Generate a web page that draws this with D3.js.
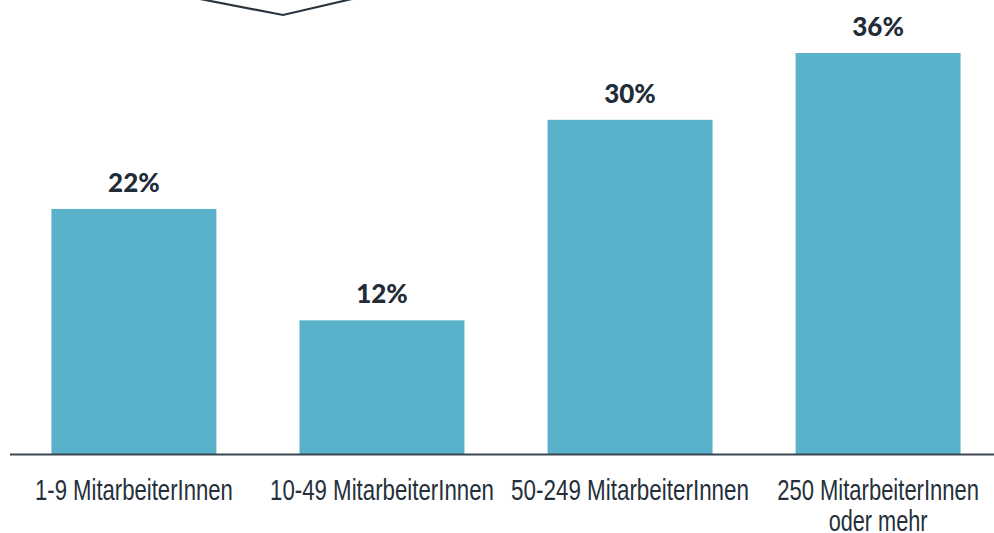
<!DOCTYPE html>
<html>
<head>
<meta charset="utf-8">
<script src="https://cdn.jsdelivr.net/npm/d3@7"></script>
<style>
  html, body { margin: 0; padding: 0; background: #ffffff; }
  svg { display: block; }
</style>
</head>
<body>
<svg id="chart" width="994" height="533"></svg>
<script>
// Share of companies by size class
const categories = [
  ["1-9 MitarbeiterInnen"],
  ["10-49 MitarbeiterInnen"],
  ["50-249 MitarbeiterInnen"],
  ["250 MitarbeiterInnen", "oder mehr"]
];
// condensed widths for each label line
const labelWidths = [[198], [224], [238], [202, 99]];
const values = [22, 12, 30, 36];
const valueLabels = ["22%", "12%", "30%", "36%"];

const W = 994, H = 533;
const baseY = 454;
const svg = d3.select("#chart");

const x = d3.scaleBand()
  .domain(d3.range(categories.length))
  .range([10, 1002])
  .paddingInner(0.335)
  .paddingOuter(0.167);

const y = d3.scaleLinear()
  .domain([0, 36])
  .range([baseY, 53]);

// callout pointer at the top
svg.append("path")
  .attr("d", d3.line()([[200, -1], [283, 15], [352, -1]]))
  .attr("fill", "none")
  .attr("stroke", "#2a343e")
  .attr("stroke-width", 2.2);

// bars
svg.append("g").selectAll("rect")
  .data(values)
  .join("rect")
  .attr("x", (d, i) => x(i))
  .attr("width", x.bandwidth())
  .attr("y", d => y(d))
  .attr("height", d => baseY - y(d))
  .attr("fill", "#59b2ca");

// value labels
svg.append("g").selectAll("text")
  .data(values)
  .join("text")
  .attr("x", (d, i) => x(i) + x.bandwidth() / 2)
  .attr("y", d => y(d) - 17)
  .attr("text-anchor", "middle")
  .attr("font-family", "Lato, sans-serif")
  .attr("font-weight", 900)
  .attr("font-size", 26)
  .attr("fill", "#222c37")
  .text((d, i) => valueLabels[i]);

// baseline axis
const axis = d3.axisBottom(x).tickSize(0).tickFormat("");
const gAxis = svg.append("g")
  .attr("transform", `translate(0,${baseY + 0.5})`)
  .call(axis);
gAxis.select(".domain")
  .attr("d", "M10,0H994")
  .attr("stroke", "#3b4651")
  .attr("stroke-width", 1.8);

// category labels, condensed horizontally to their target widths
const cat = svg.append("g").selectAll("g")
  .data(categories)
  .join("g")
  .attr("transform", (d, i) => `translate(${x(i) + x.bandwidth() / 2},500)`);
cat.selectAll("text")
  .data((d, i) => d.map((t, j) => ({ t, w: labelWidths[i][j], j })))
  .join("text")
  .attr("text-anchor", "middle")
  .attr("font-family", "'Liberation Sans', Arial, sans-serif")
  .attr("font-size", 30)
  .attr("fill", "#25303a")
  .text(d => d.t)
  .each(function (d) {
    const len = this.getComputedTextLength();
    d3.select(this).attr("transform", `translate(0,${d.j * 31}) scale(${d.w / len},1)`);
  });
</script>
</body>
</html>
